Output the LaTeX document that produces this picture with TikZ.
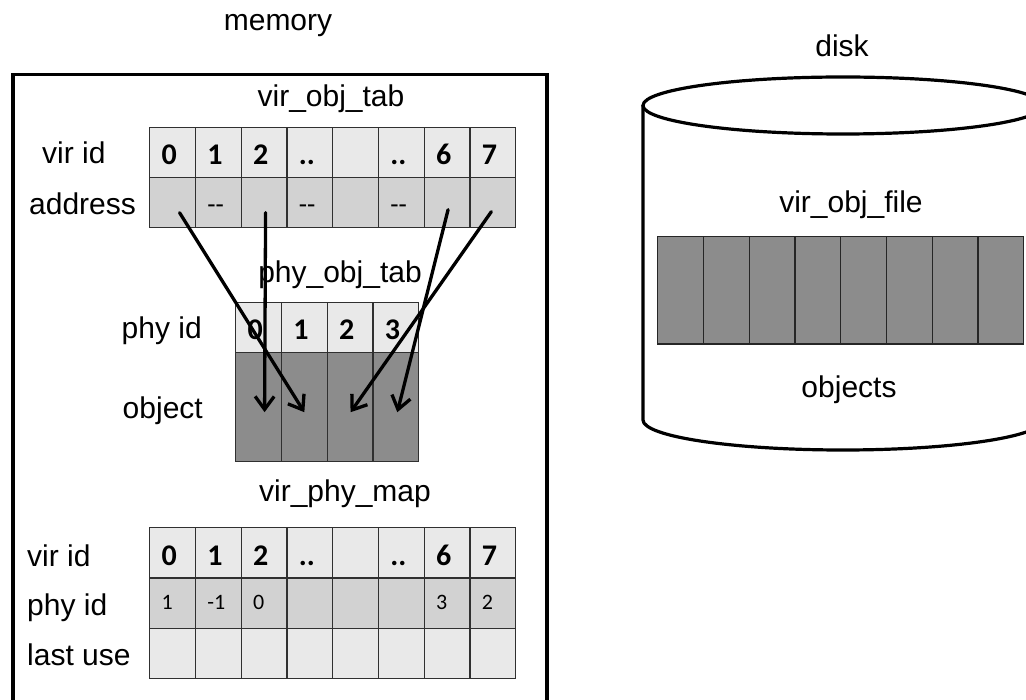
\documentclass[tikz,border=0pt]{standalone}
\usepackage{fontspec}
\setmainfont{Liberation Sans}
\newfontfamily\calibrifont{Carlito}
\usetikzlibrary{arrows.meta}

\definecolor{rowlight}{HTML}{E9E9E9}
\definecolor{rowmid}{HTML}{D2D2D2}
\definecolor{rowdark}{HTML}{8C8C8C}
\definecolor{gridline}{HTML}{303030}

\newcommand\twodots{..}
\newcommand\dashpair{-{}-}

\begin{document}
\begin{tikzpicture}[x=1pt,y=-1pt,
  lbl/.style={inner sep=0pt, font=\fontsize{30}{34}\selectfont},
  cell/.style={draw=gridline, line width=1.4pt, inner xsep=12pt, inner ysep=0pt,
    text width=21.75pt, align=left, text depth=0pt, anchor=north west},
  bolddig/.style={font=\calibrifont\bfseries\fontsize{30}{34}\selectfont},
  smallnum/.style={font=\calibrifont\fontsize{22}{26}\selectfont},
  dashtxt/.style={font=\calibrifont\fontsize{27}{30}\selectfont},
  ptr/.style={line width=3.3pt, line cap=round, -{Straight Barb[length=13pt,width=19pt]}},
]
\useasboundingbox (0,0) rectangle (1026,700);
\clip (0,0) rectangle (1026,700);

% ---------------- memory ----------------
\node[lbl, anchor=base] (memlabel) at (278,31) {memory};
\node[draw, line width=3.5pt, inner sep=0pt, minimum width=534pt, minimum height=660pt,
  anchor=north west] (membox) at (11,73) {};

% virtual object table
\node[lbl, anchor=base] (votlabel) at (331,107) {vir\_obj\_tab};
\node[lbl, anchor=base west] (votvir) at (42,164) {vir id};
\node[lbl, anchor=base west] (votaddr) at (29,215) {address};
\foreach \t [count=\i from 0] in {0,1,2,\twodots,{},\twodots,6,7}
  \node[cell, fill=rowlight, minimum height=50pt, bolddig, text height=24pt]
    (vot-v\i) at ({149+\i*45.75},127) {\t};
\foreach \t [count=\i from 0] in {{},\dashpair,{},\dashpair,{},\dashpair,{},{}}
  \node[cell, fill=rowmid, minimum height=50pt, dashtxt, text height=22pt]
    (vot-a\i) at ({149+\i*45.75},177) {\t};

% physical object table
\node[lbl, anchor=base] (potlabel) at (340,283) {phy\_obj\_tab};
\node[lbl, anchor=base east] (potphy) at (202,339) {phy id};
\node[lbl, anchor=base east] (potobj) at (203,419) {object};
\foreach \i in {0,...,3} {
  \node[cell, fill=rowlight, minimum height=50pt, bolddig, text height=24pt]
    (pot-h\i) at ({235+\i*45.75},302) {\i};
  \node[cell, fill=rowdark, minimum height=109pt]
    (pot-o\i) at ({235+\i*45.75},352) {};
}

% virtual to physical map
\node[lbl, anchor=base] (vpmlabel) at (345,502) {vir\_phy\_map};
\node[lbl, anchor=base west] (vpmvir) at (27,566) {vir id};
\node[lbl, anchor=base west] (vpmphy) at (27,615) {phy id};
\node[lbl, anchor=base west] (vpmuse) at (27,665) {last use};
\foreach \t [count=\i from 0] in {0,1,2,\twodots,{},\twodots,6,7}
  \node[cell, fill=rowlight, minimum height=50.33pt, bolddig, text height=25pt]
    (vpm-v\i) at ({149+\i*45.75},527) {\t};
\foreach \t [count=\i from 0] in {1,-1,0,{},{},{},3,2}
  \node[cell, fill=rowmid, minimum height=50.33pt, smallnum, text height=13pt]
    (vpm-p\i) at ({149+\i*45.75},577.33) {\t};
\foreach \i in {0,...,7}
  \node[cell, fill=rowlight, minimum height=50.33pt]
    (vpm-u\i) at ({149+\i*45.75},627.67) {};

% ---------------- disk ----------------
\node[lbl, anchor=base] (disklabel) at (842,57) {disk};
\draw[line width=3.2pt, fill=white, line join=round]
  (643,105) -- (643,420) arc[start angle=180, end angle=0, x radius=200, y radius=30]
  -- (1043,105);
\draw[line width=3.2pt, fill=white] (843,105.5) ellipse [x radius=200, y radius=28.5];
\node[lbl, anchor=base] (filelabel) at (851,213) {vir\_obj\_file};
\foreach \i in {0,...,7}
  \node[cell, fill=rowdark, draw=black!85, minimum height=107.5pt]
    (vof-\i) at ({657+\i*45.75},236) {};
\node[lbl, anchor=base] (objectslabel) at (849,398) {objects};

% ---------------- address pointers ----------------
\coordinate (s0) at ([shift={(7,10)}]vot-a0.center);
\coordinate (s2) at ([shift={(1.5,10)}]vot-a2.center);
\coordinate (s6) at ([shift={(1,7)}]vot-a6.center);
\coordinate (s7) at ([shift={(-1.5,9)}]vot-a7.center);
\coordinate (e0) at ([shift={(6,5)}]pot-o0.center);
\coordinate (e1) at ([shift={(0,5)}]pot-o1.center);
\coordinate (e2) at ([shift={(0.5,5)}]pot-o2.center);
\coordinate (e3) at ([shift={(1.5,5)}]pot-o3.center);
\draw[ptr] (s0) -- (e1);
\draw[ptr] (s2) -- (e0);
\draw[ptr] (s6) -- (e3);
\draw[ptr] (s7) -- (e2);
\end{tikzpicture}
\end{document}
